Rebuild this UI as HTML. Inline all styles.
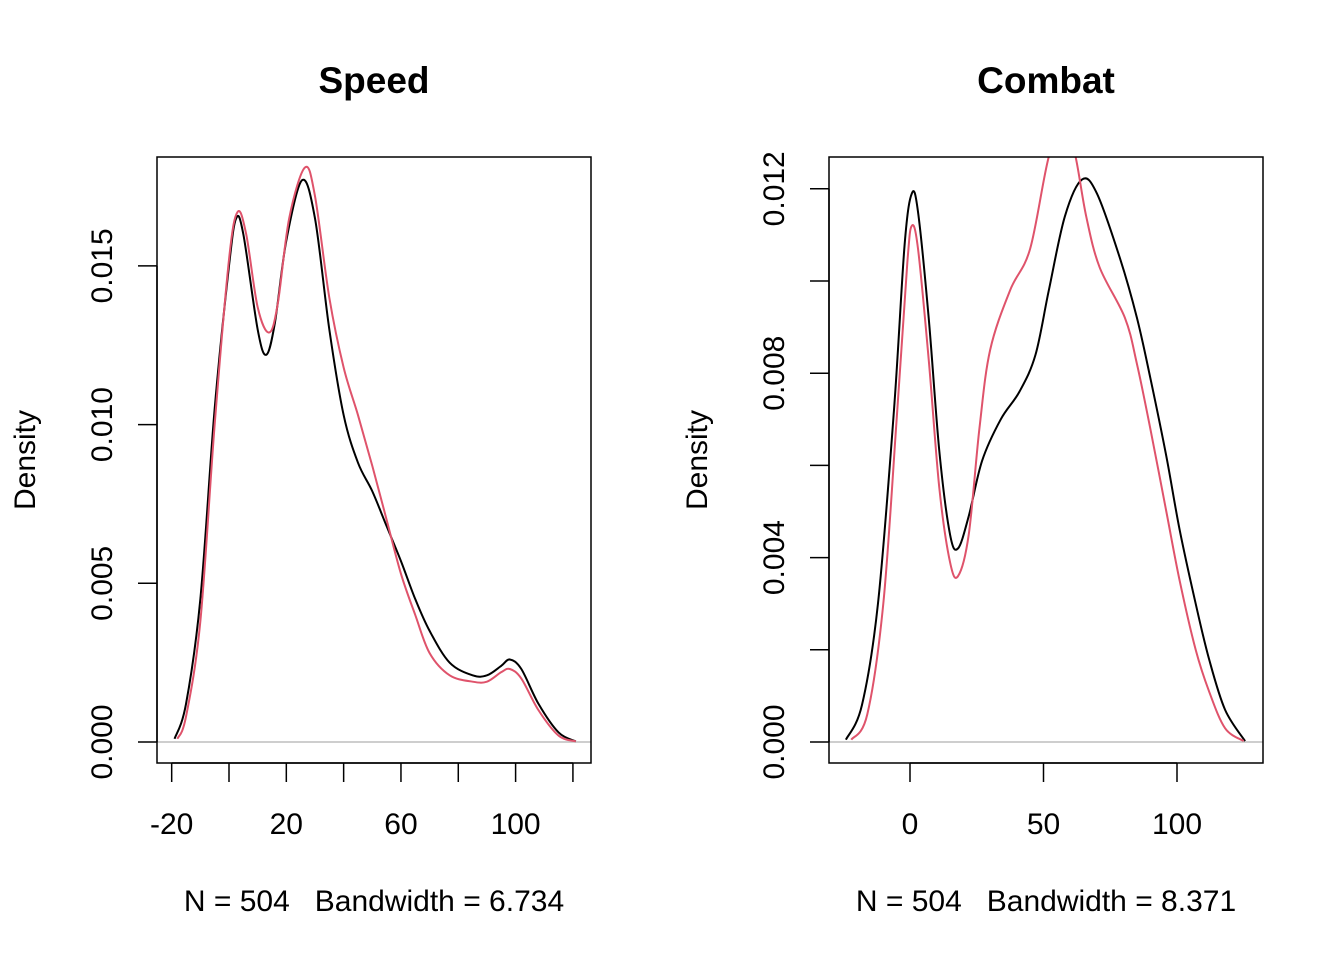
<!DOCTYPE html>
<html><head><meta charset="utf-8"><style>
body{margin:0;background:#fff}
svg text{font-family:"Liberation Sans",Arial,sans-serif;fill:#000;white-space:pre}
</style></head><body>
<svg id="chart" width="1344" height="960" viewBox="0 0 1344 960">
<defs>
<clipPath id="clipL"><rect x="157" y="157" width="434" height="606"/></clipPath>
<clipPath id="clipR"><rect x="829" y="157" width="434" height="606"/></clipPath>
</defs>
<g id="left"></g>
<g id="right"></g>
</svg>
<script>
// Speed data
const speedBlackX=[-19,-15,-10,-5,0,2.5,5,10,13,16,20,25.5,30,35,40,45,50,55,60,65,70,77,85,90,95,98,102,108,115,121];
const speedBlackY=[0.0001,0.0012,0.0045,0.0105,0.015,0.0165,0.016,0.013,0.0122,0.0132,0.0158,0.0177,0.0165,0.013,0.0103,0.0088,0.0079,0.0068,0.0057,0.0045,0.0035,0.0025,0.0021,0.0021,0.0024,0.0026,0.0023,0.0012,0.0003,0.00002];
const speedRedX=[-18,-15,-10,-5,0,3,6,10,14,17,21,26.5,30,35,40,45,50,55,60,65,70,77,85,90,95,98,102,108,115,121];
const speedRedY=[0.0001,0.0008,0.0038,0.0100,0.0152,0.0167,0.0160,0.0137,0.0129,0.0138,0.0165,0.0181,0.0172,0.0140,0.0118,0.0103,0.0087,0.0070,0.0053,0.0040,0.0028,0.0021,0.0019,0.0019,0.0022,0.0023,0.0020,0.0010,0.0002,0.00002];
const speedXTicks=[-20,0,20,40,60,80,100,120];
const speedXLabels=["-20","","20","","60","","100",""];
const speedYTicks=[0,0.005,0.010,0.015];
const speedYLabels=["0.000","0.005","0.010","0.015"];
// Combat data
const combatBlackX=[-24,-18,-12,-6,-2,0.7,3,7,11,15,18,22,27,34,41,47,52,58,64.4,70,78.6,85,90,96,101,107,112,118,125.5];
const combatBlackY=[0.00005,0.0008,0.003,0.0072,0.0108,0.0119,0.0115,0.0092,0.0063,0.0045,0.0042,0.0049,0.0061,0.0070,0.0076,0.0084,0.0098,0.0114,0.0122,0.0119,0.0105,0.0092,0.0079,0.0062,0.0046,0.0030,0.0018,0.0007,0.00002];
const combatRedX=[-22,-16,-10,-5,-1,0.7,3,7,11,15,18,22,26,30,37.5,45,52,58,62,66,71,80.5,85,90,96,101,107,112,118,125];
const combatRedY=[0.00005,0.0006,0.003,0.007,0.0104,0.0112,0.0107,0.0083,0.0055,0.0039,0.0036,0.0045,0.0068,0.0085,0.0098,0.0107,0.0127,0.0135,0.0127,0.0114,0.0103,0.0092,0.0082,0.0068,0.0050,0.0035,0.0020,0.0011,0.0003,0.00002];
const combatXTicks=[0,50,100];
const combatXLabels=["0","50","100"];
const combatYTicks=[0,0.002,0.004,0.006,0.008,0.010,0.012];
const combatYLabels=["0.000","","0.004","","0.008","","0.012"];

const NS="http://www.w3.org/2000/svg";
function mk(tag,attrs,parent,text){const e=document.createElementNS(NS,tag);for(const k in attrs)e.setAttribute(k,attrs[k]);if(text!==undefined)e.textContent=text;parent.appendChild(e);return e;}
function smoothPath(pts){let d="M"+pts[0][0]+","+pts[0][1];for(let i=0;i<pts.length-1;i++){const p0=pts[i-1]||pts[i],p1=pts[i],p2=pts[i+1],p3=pts[i+2]||p2;const c1x=p1[0]+(p2[0]-p0[0])/6,c1y=p1[1]+(p2[1]-p0[1])/6,c2x=p2[0]-(p3[0]-p1[0])/6,c2y=p2[1]-(p3[1]-p1[1])/6;d+=" C"+c1x.toFixed(2)+","+c1y.toFixed(2)+" "+c2x.toFixed(2)+","+c2y.toFixed(2)+" "+p2[0].toFixed(2)+","+p2[1].toFixed(2);}return d;}

function panel(g,o){
  const {bx,title,sub,xs,ys,xt,xl,yt,yl,series,clip}=o;
  const t=mk("text",{x:bx+217,y:93,"text-anchor":"middle","font-size":"37","font-weight":"bold"},g,title);
  
  
  const zl=mk("line",{x1:bx,x2:bx+434,y1:ys(0),y2:ys(0),stroke:"#bebebe","stroke-width":1.5},g);
  
  
  series.forEach(s=>{
    const pts=s.x.map((v,i)=>[xs(v),ys(s.y[i])]);
    const p=mk("path",{d:smoothPath(pts),fill:"none",stroke:s.c,"stroke-width":2,"clip-path":"url(#"+clip+")"},g);
    
    
  });
  const box=mk("rect",{x:bx,y:157,width:434,height:606,fill:"none",stroke:"#000","stroke-width":1.5},g);
  
  
  const xa=mk("g",{},g);
  
  
  mk("line",{x1:xs(xt[0]),x2:xs(xt[xt.length-1]),y1:763,y2:763,stroke:"#000","stroke-width":1.5},xa);
  xt.forEach((v,i)=>{
    mk("line",{x1:xs(v),x2:xs(v),y1:763,y2:782,stroke:"#000","stroke-width":1.5},xa);
    if(xl[i]){const l=mk("text",{x:xs(v),y:834,"text-anchor":"middle","font-size":"30"},xa,xl[i]);
      
      }
  });
  const ya=mk("g",{},g);
  
  
  mk("line",{x1:bx,x2:bx,y1:ys(yt[0]),y2:ys(yt[yt.length-1]),stroke:"#000","stroke-width":1.5},ya);
  yt.forEach((v,i)=>{
    mk("line",{x1:bx,x2:bx-19,y1:ys(v),y2:ys(v),stroke:"#000","stroke-width":1.5},ya);
    if(yl[i]){const l=mk("text",{x:0,y:0,"text-anchor":"middle","font-size":"30",transform:"translate("+(bx-45)+","+ys(v)+") rotate(-90)"},ya,yl[i]);
      
      }
  });
  const yt2=mk("text",{x:0,y:0,"text-anchor":"middle","font-size":"30",transform:"translate("+(bx-122)+",460) rotate(-90)"},g,"Density");
  
  
  const st=mk("text",{x:bx+217,y:911,"text-anchor":"middle","font-size":"30"},g,sub);
  
  
}
const L=document.getElementById("left"),R=document.getElementById("right");
panel(L,{bx:157,title:"Speed",sub:"N = 504   Bandwidth = 6.734",xs:v=>229+v*2.866,ys:d=>742-d*31740,
  xt:speedXTicks,xl:speedXLabels,yt:speedYTicks,yl:speedYLabels,clip:"clipL",
  series:[{x:speedBlackX,y:speedBlackY,c:"#000",n:"speed-density-black"},{x:speedRedX,y:speedRedY,c:"#df536b",n:"speed-density-red"}]});
panel(R,{bx:829,title:"Combat",sub:"N = 504   Bandwidth = 8.371",xs:v=>910+v*2.67,ys:d=>742-d*46100,
  xt:combatXTicks,xl:combatXLabels,yt:combatYTicks,yl:combatYLabels,clip:"clipR",
  series:[{x:combatBlackX,y:combatBlackY,c:"#000",n:"combat-density-black"},{x:combatRedX,y:combatRedY,c:"#df536b",n:"combat-density-red"}]});
</script>
</body></html>
